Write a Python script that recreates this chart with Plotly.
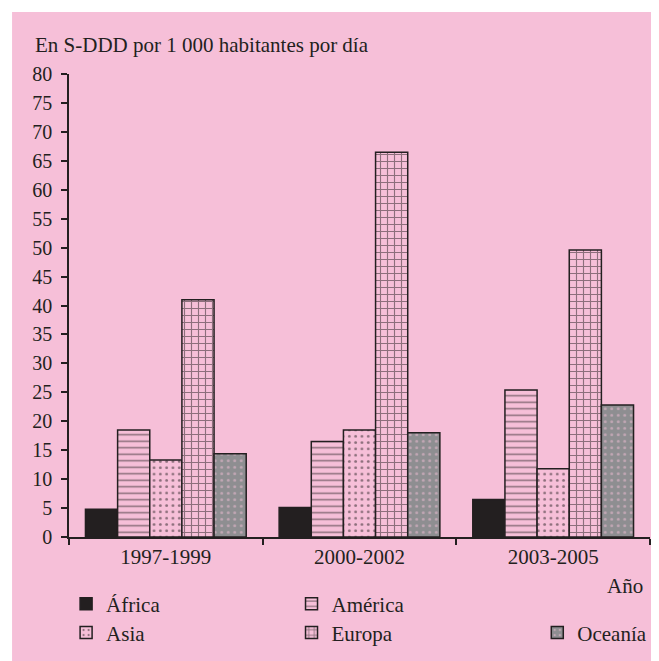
import plotly.graph_objects as go

periodos = ["1997-1999", "2000-2002", "2003-2005"]
regiones = ["África", "América", "Asia", "Europa", "Oceanía"]
africa = [4.8, 5.1, 6.5]
america = [18.5, 16.5, 25.4]
asia = [13.3, 18.5, 11.8]
europa = [41.0, 66.5, 49.6]
oceania = [14.4, 18.0, 22.8]
y_ticks = list(range(0, 81, 5))

rosa = "#f6bfd8"
oscuro = "#231f20"
gris = "#8e8e91"

valores = [africa, america, asia, europa, oceania]
# relleno, forma de trama, color de trama, tamaño, solidez
estilos = [
    (oscuro, "", oscuro, 6, 0.3),
    (rosa, "-", oscuro, 6.5, 0.24),
    (rosa, ".", oscuro, 6.3, 0.16),
    (rosa, "+", oscuro, 7, 0.3),
    (gris, ".", rosa, 6.5, 0.16),
]
# posicion de cada leyenda (papel)
leyendas = [(-0.005, -0.145), (0.383, -0.145), (-0.005, -0.207),
            (0.383, -0.207), (0.806, -0.207)]

fig = go.Figure()
for i, (nombre, vals, est) in enumerate(zip(regiones, valores, estilos)):
    relleno, forma, fg, tam, sol = est
    ley = "legend" if i == 0 else f"legend{i + 1}"
    fig.add_trace(go.Bar(
        x=periodos, y=vals, name=nombre, legend=ley,
        marker=dict(color=relleno,
                    line=dict(color=oscuro, width=1.5),
                    pattern=dict(shape=forma, fgcolor=fg, bgcolor=relleno,
                                 size=tam, solidity=sol, fillmode="overlay")),
    ))

fnt = dict(family="Liberation Serif", size=21, color=oscuro)
ley_cfg = {}
for i, (lx, ly) in enumerate(leyendas):
    clave = "legend" if i == 0 else f"legend{i + 1}"
    ley_cfg[clave] = dict(x=lx, y=ly, xanchor="left", yanchor="middle",
                          bgcolor="rgba(0,0,0,0)", font=fnt, itemwidth=30)

# la pagina deja 8 px de margen, por eso todo va desplazado 8 px
fig.update_layout(
    width=659, height=661,
    margin=dict(l=61, r=17, t=66, b=132),
    paper_bgcolor="white", plot_bgcolor=rosa,
    font=fnt,
    barmode="group", bargap=0.17, bargroupgap=0,
    showlegend=True,
    shapes=[dict(type="rect", xref="paper", yref="paper", layer="below",
                 x0=-0.098, x1=1.05, y0=-0.30, y1=1.134,
                 fillcolor=rosa, line=dict(width=0))],
    annotations=[
        dict(text="En S-DDD por 1 000 habitantes por día", xref="paper", yref="paper",
             x=-0.062, y=1.0626, xanchor="left", yanchor="middle",
             showarrow=False, font=fnt),
        dict(text="Año", xref="paper", yref="paper", x=0.991, y=-0.106,
             xanchor="right", yanchor="middle", showarrow=False, font=fnt),
    ],
    **ley_cfg,
)
fig.update_xaxes(showline=True, linecolor=oscuro, linewidth=1.5,
                 ticks="outside", tickson="boundaries", ticklen=6,
                 tickcolor=oscuro, tickwidth=1.5, showgrid=False,
                 tickfont=dict(size=21))
fig.update_yaxes(range=[0, 80], tickvals=y_ticks, showline=True,
                 linecolor=oscuro, linewidth=1.5, ticks="outside", ticklen=6,
                 tickcolor=oscuro, tickwidth=1.5, showgrid=False,
                 zeroline=False, tickfont=dict(size=20), ticklabelstandoff=5)

fig.write_html("out.html")
